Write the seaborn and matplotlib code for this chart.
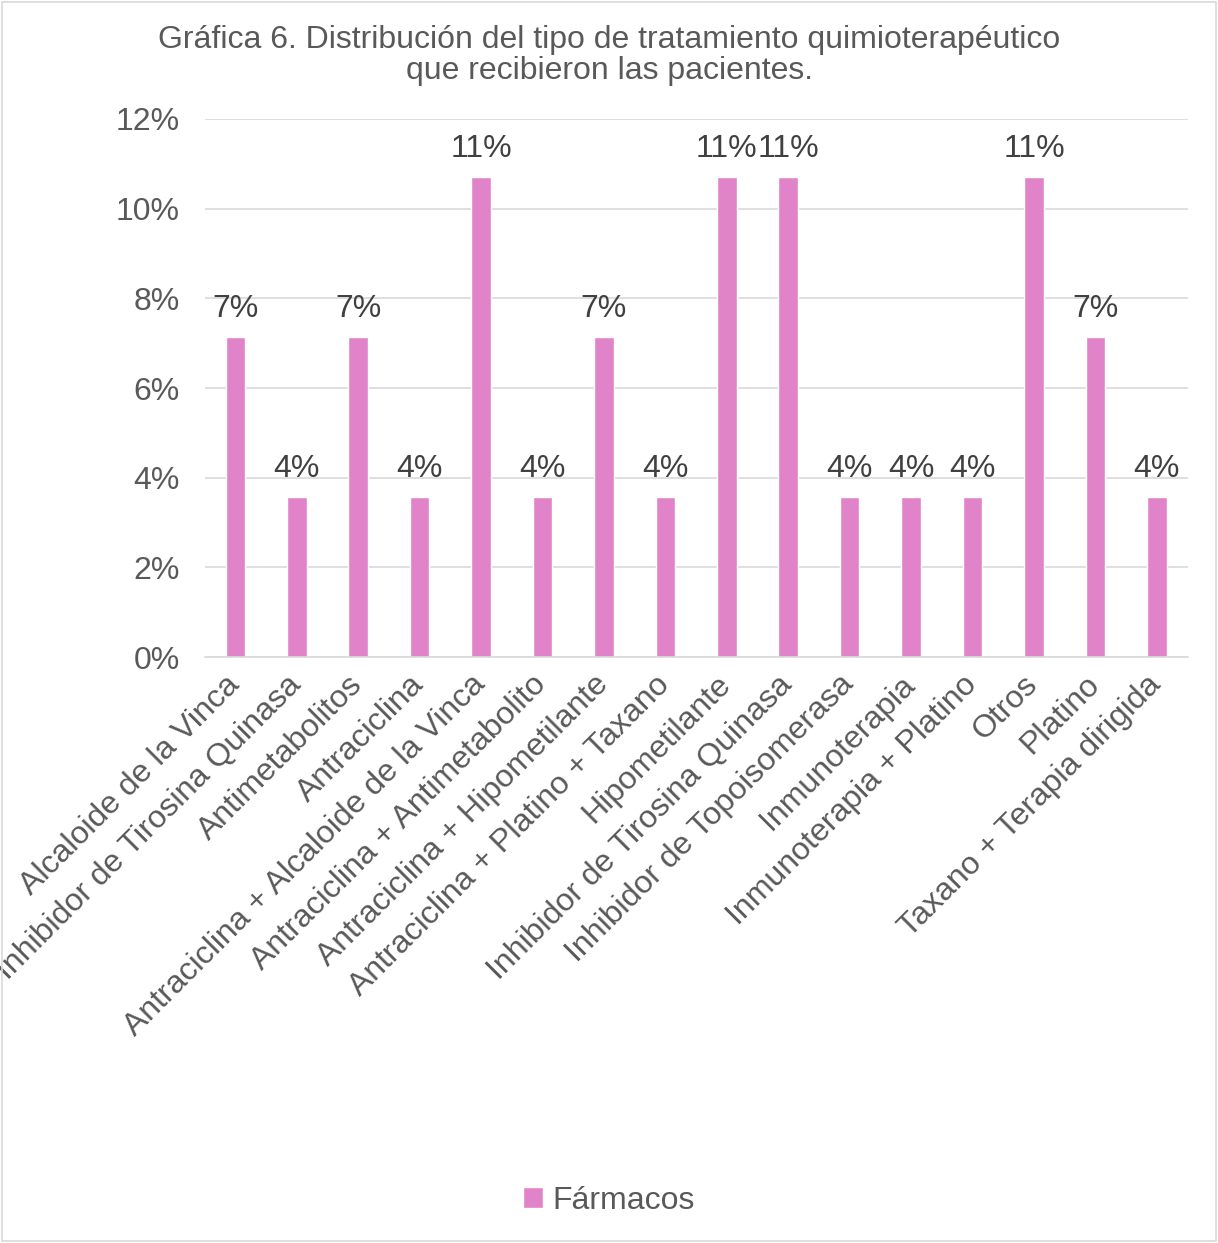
import matplotlib
matplotlib.use("Agg")
import matplotlib.pyplot as plt
import matplotlib.transforms as mtransforms
import seaborn as sns
import pandas as pd
from matplotlib.patches import Patch

categories = [
    "Alcaloide de la Vinca",
    "Inhibidor de Tirosina Quinasa",
    "Antimetabolitos",
    "Antraciclina",
    "Antraciclina + Alcaloide de la Vinca",
    "Antraciclina + Antimetabolito",
    "Antraciclina + Hipometilante",
    "Antraciclina + Platino + Taxano",
    "Hipometilante",
    "Inhibidor de Tirosina Quinasa",
    "Inhibidor de Topoisomerasa",
    "Inmunoterapia",
    "Inmunoterapia + Platino",
    "Otros",
    "Platino",
    "Taxano + Terapia dirigida",
]
values = [7.14, 3.57, 7.14, 3.57, 10.71, 3.57, 7.14, 3.57,
          10.71, 10.71, 3.57, 3.57, 3.57, 10.71, 7.14, 3.57]
labels = ["7%", "4%", "7%", "4%", "11%", "4%", "7%", "4%",
          "11%", "11%", "4%", "4%", "4%", "11%", "7%", "4%"]
series_name = "Fármacos"
title = "Gráfica 6. Distribución del tipo de tratamiento quimioterapéutico\nque recibieron las pacientes."

sns.set_theme(style="white")
plt.rcParams["font.family"] = ["Liberation Sans", "DejaVu Sans"]

txt = "#595959"
dark = "#404040"
bar_color = "#E083C9"
fs = 23

df = pd.DataFrame({"pos": [f"c{i}" for i in range(len(categories))],
                   "val": values, "serie": series_name})

fig = plt.figure(figsize=(12.18, 12.43), dpi=100)
ax = fig.add_axes([0.168, 0.4714, 0.807, 0.4329])

sns.barplot(data=df, x="pos", y="val", hue="serie", palette=[bar_color],
            width=0.32, ax=ax, legend=False, saturation=1)

ax.set_ylim(0, 12)
ax.set_xlim(-0.5, len(categories) - 0.5)
ax.set_yticks(range(0, 13, 2))
ax.set_yticklabels([f"{t}%" for t in range(0, 13, 2)], fontsize=fs, color=txt)
ax.yaxis.grid(True, color="#D9D9D9", linewidth=1.2)
ax.set_axisbelow(True)
for s in ["top", "right", "left"]:
    ax.spines[s].set_visible(False)
ax.spines["bottom"].set_color("#D9D9D9")
ax.spines["bottom"].set_linewidth(1.2)
ax.tick_params(axis="y", length=0, pad=18)
ax.tick_params(axis="x", length=0, pad=6)
ax.set_xticks(range(len(categories)))
ax.set_xticklabels(categories, rotation=45, ha="right", rotation_mode="anchor",
                   fontsize=fs, color=txt)
offset = mtransforms.ScaledTranslation(-8 / 72, -3 / 72, fig.dpi_scale_trans)
for lab in ax.get_xticklabels():
    lab.set_transform(lab.get_transform() + offset)
ax.set_xlabel("")
ax.set_ylabel("")

for i, (v, l) in enumerate(zip(values, labels)):
    ax.annotate(l, (i, v), xytext=(0, 9), textcoords="offset points",
                ha="center", va="bottom", fontsize=fs, color=dark)

fig.text(0.5, 0.931, title, ha="center", va="bottom", fontsize=fs, color=txt,
         linespacing=1.02)

fig.legend(handles=[Patch(facecolor=bar_color, label=series_name)],
           loc="center", bbox_to_anchor=(0.5, 0.034), frameon=False,
           fontsize=fs, labelcolor=txt, handlelength=0.6, handleheight=0.6,
           handletextpad=0.3)

fig.patches.append(plt.Rectangle((0.002, 0.002), 0.996, 0.996, transform=fig.transFigure,
                                 fill=False, edgecolor="#D9D9D9", linewidth=1.2))

fig.savefig("out.png", dpi=100, facecolor="white")
